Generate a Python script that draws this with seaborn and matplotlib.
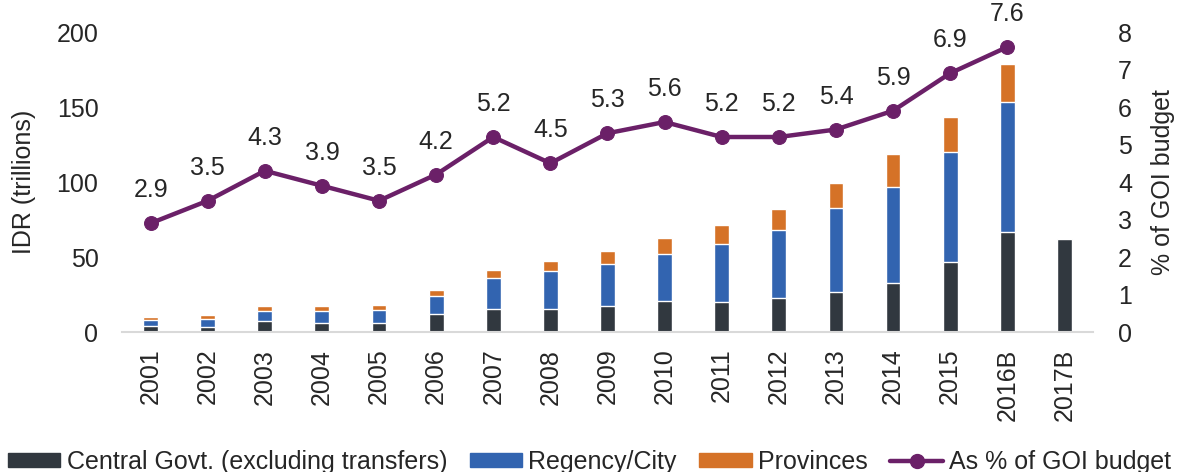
import numpy as np
import pandas as pd
import matplotlib
matplotlib.use('Agg')
import matplotlib.pyplot as plt
import seaborn as sns
from matplotlib.patches import Patch
from matplotlib.lines import Line2D

sns.set_style('white')
plt.rcParams['font.family'] = ['Liberation Sans', 'DejaVu Sans']

years = ['2001', '2002', '2003', '2004', '2005', '2006', '2007', '2008', '2009',
         '2010', '2011', '2012', '2013', '2014', '2015', '2016B', '2017B']
central = [3.8, 3.3, 7.1, 5.8, 5.8, 11.8, 15.6, 15.6, 17.1, 20.4, 20.2, 22.4, 26.4, 32.4, 46.4, 66.5, 62.0]
regency = [4.4, 5.6, 7.1, 8.2, 9.1, 12.4, 20.6, 24.8, 28.5, 31.8, 38.2, 45.4, 56.3, 64.3, 73.4, 86.9, 0]
provinces = [1.8, 2.6, 2.9, 3.1, 3.3, 3.8, 5.1, 6.7, 8.4, 10.5, 12.7, 14.2, 16.8, 22.2, 23.7, 25.1, 0]
pct_budget = [2.9, 3.5, 4.3, 3.9, 3.5, 4.2, 5.2, 4.5, 5.3, 5.6, 5.2, 5.2, 5.4, 5.9, 6.9, 7.6]

c_dark = '#31383f'
c_blue = '#3264b0'
c_orange = '#d57227'
c_purple = '#6b2068'
fs = 18

df = pd.DataFrame({'year': years, 'central': central, 'regency': regency, 'provinces': provinces})
df['mid'] = df['central'] + df['regency']
df['total'] = df['mid'] + df['provinces']

fig = plt.figure(figsize=(11.79, 4.72), dpi=100)
ax = fig.add_axes([0.1035, 0.2966, 0.8235, 0.6356])

# stacked look: draw cumulative totals from the top down
sns.barplot(data=df, x='year', y='total', color=c_orange, width=0.26, saturation=1, ax=ax)
sns.barplot(data=df, x='year', y='mid', color=c_blue, width=0.26, saturation=1, ax=ax)
sns.barplot(data=df, x='year', y='central', color=c_dark, width=0.26, saturation=1, ax=ax)

ax.set_ylim(0, 200)
ax.set_xlim(-0.5, 16.5)
ax.set_yticks([0, 50, 100, 150, 200])
ax.set_xlabel('')
ax.set_ylabel('IDR (trillions)', fontsize=fs, labelpad=15)
ax.tick_params(axis='y', labelsize=fs, length=0, pad=17)
ax.tick_params(axis='x', labelsize=fs, length=0, rotation=90, pad=12)
for s in ['top', 'right', 'left']:
    ax.spines[s].set_visible(False)
ax.spines['bottom'].set_color('#d9d9d9')
ax.spines['bottom'].set_linewidth(1.5)

ax2 = ax.twinx()
xs = np.arange(len(pct_budget))
sns.lineplot(x=xs, y=pct_budget, color=c_purple, linewidth=3.2, marker='o',
             markersize=10, markeredgecolor=c_purple, ax=ax2)
for x, v in zip(xs, pct_budget):
    ax2.annotate(f'{v:.1f}', (x, v), xytext=(0, 15), textcoords='offset points',
                 ha='center', va='bottom', fontsize=fs)
ax2.set_ylim(0, 8)
ax2.set_yticks(range(0, 9))
ax2.set_ylabel('% of GOI budget', fontsize=fs, labelpad=14)
ax2.tick_params(axis='y', labelsize=fs, length=0, pad=18)
for s in ['top', 'right', 'left', 'bottom']:
    ax2.spines[s].set_visible(False)

handles = [Patch(color=c_dark), Patch(color=c_blue), Patch(color=c_orange),
           Line2D([], [], color=c_purple, linewidth=3.2, marker='o', markersize=10)]
labels = ['Central Govt. (excluding transfers)', 'Regency/City', 'Provinces', 'As % of GOI budget']
fig.legend(handles, labels, loc='center', bbox_to_anchor=(0.5, 0.022), ncol=4,
           frameon=False, fontsize=fs, handlelength=2.1, handleheight=0.5,
           columnspacing=0.9, handletextpad=0.25, borderpad=0)

fig.savefig('out.png', dpi=100)
